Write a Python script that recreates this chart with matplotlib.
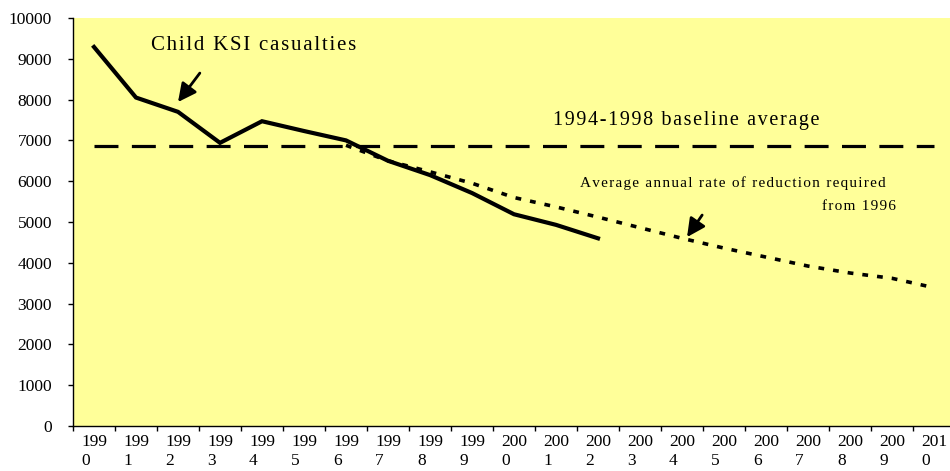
import numpy as np
import matplotlib
matplotlib.use('Agg')
import matplotlib.pyplot as plt

# values
years = [str(y) for y in range(1990, 2011)]
ksi_years = years[:13]                      # 1990 - 2002
ksi = [9290, 8050, 7700, 6940, 7470, 7230, 7000, 6500, 6150, 5710, 5190, 4930, 4600]
target_years = years[6:]                    # 1996 - 2010
target = [6880, 6500, 6230, 5950, 5600, 5370, 5120, 4860, 4600, 4360, 4140, 3920, 3750, 3620, 3390]
baseline = 6860

plt.rcParams['font.family'] = ['Liberation Serif', 'DejaVu Serif']


def spaced(s):
    # the original text is letter-spaced; hair spaces between letters
    return '\u200a'.join(s)


fig = plt.figure(figsize=(9.5, 4.71), dpi=100)
ax = fig.add_axes([73/950, 45/471, 882/950, 408/471])
ax.set_facecolor('#FFFF99')

pos = {y: i for i, y in enumerate(years)}
x_ksi = [pos[y] for y in ksi_years]
x_tgt = [pos[y] for y in target_years]

ax.hlines(baseline, 0, len(years) - 1, colors='black', lw=2.3,
          linestyles=[(0, (7.5, 4.2))])
ax.plot(x_tgt, target, color='black', lw=2.6, ls=(0, (1.6, 2.5)),
        dash_capstyle='butt')
ax.plot(x_ksi, ksi, color='black', lw=3.0, solid_joinstyle='miter')

ax.set_xlim(-0.5, len(years) - 0.5)
ax.set_ylim(0, 10000)
ax.set_yticks(np.arange(0, 10001, 1000))
ax.set_xticks(np.arange(len(years)))
ax.set_xticklabels([y[:3] + '\n' + y[3:] for y in years],
                   multialignment='left', linespacing=1.25)
ax.set_xticks(np.arange(len(years) + 1) - 0.5, minor=True)
ax.tick_params(axis='x', which='major', length=0, pad=6, labelsize=12.5)
ax.tick_params(axis='x', which='minor', length=3.5, width=1, direction='out')
ax.tick_params(axis='y', length=3.5, width=1, direction='out', pad=11.5, labelsize=12.5)

for s in ['top', 'right']:
    ax.spines[s].set_visible(False)
ax.spines['left'].set_linewidth(1)
ax.spines['bottom'].set_linewidth(1)

ax.text(1.35, 9320, spaced('Child KSI casualties'), fontsize=15, ha='left', va='center')
ax.text(14.1, 7480, spaced('1994-1998 baseline average'), fontsize=14.5,
        ha='center', va='center')
ax.text(15.2, 5960, spaced('Average annual rate of reduction required'), fontsize=11,
        ha='center', va='center')
ax.text(19.1, 5370, spaced('from 1996'), fontsize=11, ha='right', va='center')

arrow = dict(arrowstyle='-|>,head_length=1.1,head_width=0.55', color='black',
             lw=2, shrinkA=0, shrinkB=0)
ax.annotate('', xy=(2.0, 7940), xytext=(2.52, 8650), arrowprops=arrow)
ax.annotate('', xy=(14.12, 4630), xytext=(14.48, 5170), arrowprops=arrow)

fig.savefig('out.png', dpi=100)
